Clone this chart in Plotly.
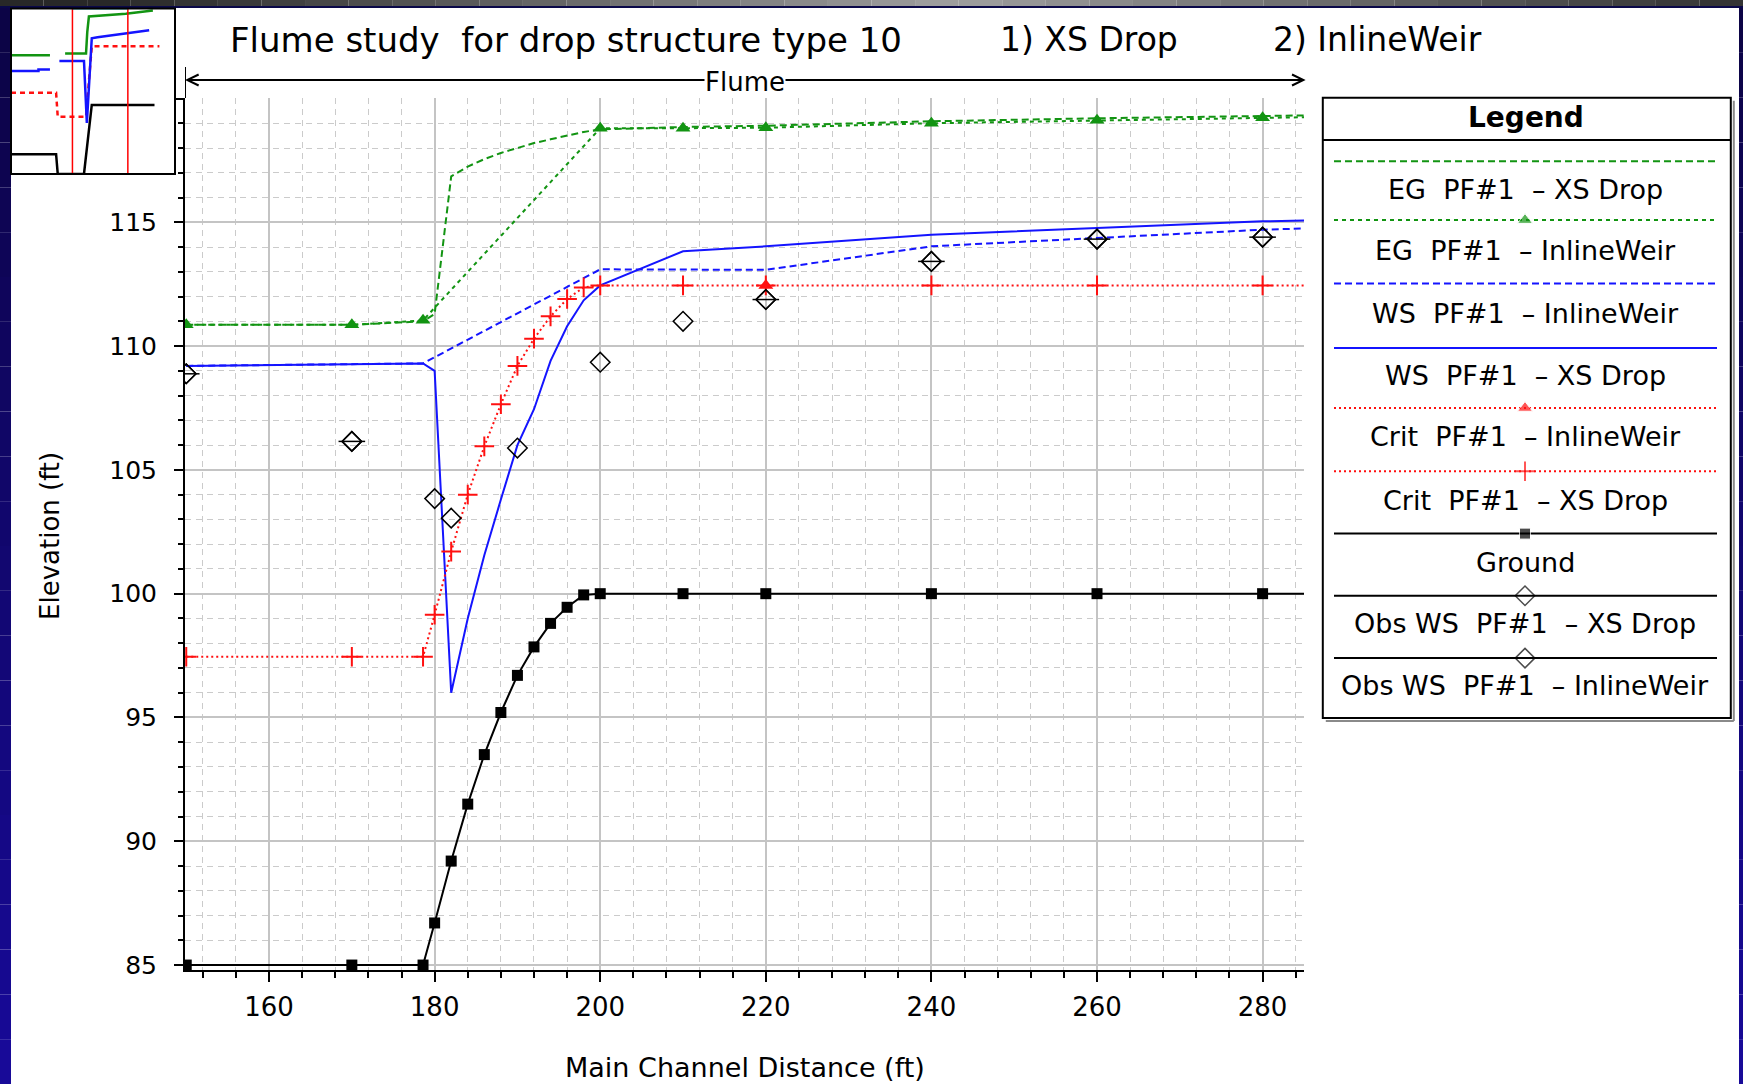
import plotly.graph_objects as go

W, H = 1743, 1084

# ---------------- profile data (ft) ----------------
# river stations of the XS Drop plan and of the InlineWeir plan
sta_xs = [150, 170, 178.6, 180, 182, 184, 186, 188, 190, 192, 194, 196, 198, 200, 210, 220, 240, 260, 280, 290]
sta_iw = [150, 170, 178.6, 200, 210, 220, 240, 260, 280, 290]

ground = [85, 85, 85, 86.7, 89.2, 91.5, 93.5, 95.2, 96.7, 97.85, 98.8, 99.45, 99.95, 100, 100, 100, 100, 100, 100, 100]
ws_xs = [109.2, 109.27, 109.3, 109.0, 96.0, 99.0, 101.55, 103.8, 106.0, 107.45, 109.4, 110.8, 111.85, 112.45,
         113.83, 114.03, 114.5, 114.77, 115.04, 115.1]
eg_xs = [110.86, 110.86, 111.0, 111.3, 116.85, 117.25, 117.55, 117.8, 118.0, 118.2, 118.35, 118.5, 118.65, 118.75,
         118.85, 118.9, 119.08, 119.2, 119.3, 119.34]
crit_xs = [97.45, 97.45, 97.45, 99.15, 101.7, 104.0, 105.95, 107.65, 109.2, 110.3, 111.2, 111.9, 112.37, 112.45,
           112.45, 112.45, 112.45, 112.45, 112.45, 112.45]

ws_iw = [109.2, 109.27, 109.3, 113.1, 113.08, 113.08, 114.03, 114.37, 114.7, 114.8]
eg_iw = [110.86, 110.86, 111.04, 118.8, 118.8, 118.82, 119.0, 119.12, 119.22, 119.27]

sta_crit_iw = [220]
crit_iw = [112.45]

sta_obs_xs = [150, 170, 180, 182, 190, 200, 210, 220, 240, 260, 280]
obs_xs = [108.88, 106.15, 103.84, 103.05, 105.88, 109.35, 111.0, 111.88, 113.42, 114.32, 114.4]
sta_obs_iw = [150, 170, 220, 240, 260, 280]
obs_iw = [108.88, 106.15, 111.88, 113.42, 114.32, 114.4]

# whole-reach overview (small profile window, top left)
ov_eg_sta = [0, 95, None, 132, 183, 186, 190, 280, 346]
ov_eg = [110.1, 110.1, None, 110.5, 110.5, 115.0, 118.3, 118.9, 119.6]
ov_ws_sta = [0, 67, 67, 95, None, 118, 178, 185, 197, 211, 337]
ov_ws = [106.8, 106.8, 107.1, 107.1, None, 108.9, 108.9, 95.8, 113.7, 113.9, 115.4]
ov_crit_sta = [0, 110, 114, 174, 183, 197, 362]
ov_crit = [102.2, 102.2, 97.1, 97.1, 97.1, 112.0, 112.0]
ov_gr_sta = [0, 110, 114, 178, 197, 350]
ov_gr = [89.2, 89.2, 85, 85, 99.6, 99.6]

view_x = [149.85, 285.0]
view_y = [84.8, 120.02]
flume_reach = [149.85, 285.2]

title_parts = ["Flume study\u00a0 for drop structure type 10", "1) XS Drop", "2) InlineWeir"]
legend_labels = [
    "EG\u00a0 PF#1\u00a0 \u2013 XS Drop",
    "EG\u00a0 PF#1\u00a0 \u2013 InlineWeir",
    "WS\u00a0 PF#1\u00a0 \u2013 InlineWeir",
    "WS\u00a0 PF#1\u00a0 \u2013 XS Drop",
    "Crit\u00a0 PF#1\u00a0 \u2013 InlineWeir",
    "Crit\u00a0 PF#1\u00a0 \u2013 XS Drop",
    "Ground",
    "Obs WS\u00a0 PF#1\u00a0 \u2013 XS Drop",
    "Obs WS\u00a0 PF#1\u00a0 \u2013 InlineWeir",
]

# ---------------- styles ----------------
GREEN, BLUE, RED, BLACK = "#129412", "#1414ff", "#ff1010", "#000000"
FONT = "DejaVu Sans"

styles = [
    dict(line=dict(color=GREEN, width=2, dash="7px,4px"), mode="lines"),
    dict(line=dict(color=GREEN, width=2, dash="4px,4px"), mode="lines+markers",
         marker=dict(symbol="triangle-up", size=13, color=GREEN)),
    dict(line=dict(color=BLUE, width=2, dash="7px,4px"), mode="lines"),
    dict(line=dict(color=BLUE, width=2), mode="lines"),
    dict(line=dict(color=RED, width=2, dash="2px,3px"), mode="lines+markers",
         marker=dict(symbol="triangle-up", size=13, color=RED)),
    dict(line=dict(color=RED, width=2, dash="2px,3px"), mode="lines+markers",
         marker=dict(symbol="cross-thin", size=14, line=dict(color=RED, width=2))),
    dict(line=dict(color=BLACK, width=2), mode="lines+markers",
         marker=dict(symbol="square", size=11, color=BLACK)),
    dict(line=dict(color=BLACK, width=2), mode="markers",
         marker=dict(symbol="diamond-open", size=15, line=dict(color=BLACK, width=1.5))),
    dict(line=dict(color=BLACK, width=2), mode="markers",
         marker=dict(symbol="diamond-open", size=15, line=dict(color=BLACK, width=1.5))),
]

series = [
    (sta_xs, eg_xs), (sta_iw, eg_iw), (sta_iw, ws_iw), (sta_xs, ws_xs),
    (sta_crit_iw, crit_iw), (sta_xs, crit_xs), (sta_xs, ground),
    (sta_obs_xs, obs_xs), (sta_obs_iw, obs_iw),
]


def px(x):
    return x / W


def py(y):
    return 1 - y / H


fig = go.Figure()

# main profile plot
for (sx, sy), st, name in zip(series, styles, legend_labels):
    fig.add_trace(go.Scatter(x=sx, y=sy, name=name, showlegend=False, xaxis="x", yaxis="y", **st))
# InlineWeir observed points carry a bar across the diamond
fig.add_trace(go.Scatter(x=sta_obs_iw, y=obs_iw, mode="markers", showlegend=False, xaxis="x", yaxis="y",
                         marker=dict(symbol="line-ew", size=19, line=dict(color=BLACK, width=1.5))))

# overview window
for sx, sy, col, dash in [(ov_gr_sta, ov_gr, BLACK, "solid"), (ov_crit_sta, ov_crit, RED, "5px,4px"),
                          (ov_ws_sta, ov_ws, BLUE, "solid"), (ov_eg_sta, ov_eg, GREEN, "solid")]:
    fig.add_trace(go.Scatter(x=sx, y=sy, mode="lines", line=dict(color=col, width=2.5, dash=dash),
                             showlegend=False, xaxis="x2", yaxis="y2", connectgaps=False))
for vx in view_x:
    fig.add_trace(go.Scatter(x=[vx, vx], y=[85, 120], mode="lines", line=dict(color="#ff0000", width=1.5),
                             showlegend=False, xaxis="x2", yaxis="y2"))
for vy in [85, 120]:
    fig.add_trace(go.Scatter(x=view_x, y=[vy, vy], mode="lines", line=dict(color="#20a0a8", width=2),
                             showlegend=False, xaxis="x2", yaxis="y2"))

# legend key samples
LX0, LX1 = 1322.8, 1730.8
LY0, LY1 = 97.8, 718.0
key_y = [161.2, 220.1, 283.5, 347.9, 408.0, 471.3, 533.6, 595.8, 658.1]
text_y = [189.0, 250.1, 313.5, 375.7, 436.9, 500.2, 562.5, 623.6, 685.9]
for ky, st in zip(key_y, styles):
    s = dict(st)
    s["mode"] = "lines+markers"
    if "marker" in st:
        m = dict(st["marker"])
        m["size"] = [0, m["size"], 0]
        s["marker"] = m
    else:
        s["marker"] = dict(size=[0, 0, 0], color=st["line"]["color"])
    fig.add_trace(go.Scatter(x=[1334, 1525, 1717], y=[ky, ky, ky], showlegend=False,
                             xaxis="x3", yaxis="y3", **s))

shapes = []
# slide frame: navy side strips and a grey bar along the top
n = 24
for i in range(n):
    t = i / (n - 1)
    col = "rgb(%d,%d,%d)" % (int(12 + 12 * t), int(4 + 6 * t), int(70 + 82 * t))
    for xa, xb in [(0, 11), (1739, 1743)]:
        shapes.append(dict(type="rect", xref="paper", yref="paper", x0=px(xa), x1=px(xb),
                           y0=py(8 + (1084 - 8) * (i + 1) / n), y1=py(8 + (1084 - 8) * i / n),
                           fillcolor=col, line_width=0, layer="below"))
m = 40
for i in range(m):
    t = i / (m - 1)
    k = abs(2 * t - 1.1)
    g = int(40 + 120 * (1 - k)) if k < 1 else 40
    col = "rgb(%d,%d,%d)" % (g, g, g)
    shapes.append(dict(type="rect", xref="paper", yref="paper", x0=px(W * i / m), x1=px(W * (i + 1) / m),
                       y0=py(6), y1=py(0), fillcolor=col, line_width=0, layer="below"))
shapes.append(dict(type="rect", xref="paper", yref="paper", x0=0, x1=1, y0=py(8), y1=py(6),
                   fillcolor="#0a0848", line_width=0, layer="below"))

# overview frame
shapes.append(dict(type="rect", xref="paper", yref="paper", x0=px(11), x1=px(175), y0=py(174), y1=py(8.5),
                   line=dict(color="black", width=2), fillcolor="rgba(0,0,0,0)"))

# legend frame with a grey drop shadow on the right and bottom
shapes.append(dict(type="line", xref="paper", yref="paper", x0=px(LX1 + 3), x1=px(LX1 + 3), y0=py(LY1 + 3),
                   y1=py(LY0 + 3), line=dict(color="#8a8a8a", width=2)))
shapes.append(dict(type="line", xref="paper", yref="paper", x0=px(LX0 + 3), x1=px(LX1 + 3), y0=py(LY1 + 3),
                   y1=py(LY1 + 3), line=dict(color="#8a8a8a", width=2)))
shapes.append(dict(type="rect", xref="paper", yref="paper", x0=px(LX0), x1=px(LX1), y0=py(LY1), y1=py(LY0),
                   line=dict(color="black", width=2), fillcolor="rgba(0,0,0,0)"))
shapes.append(dict(type="line", xref="paper", yref="paper", x0=px(LX0), x1=px(LX1), y0=py(140), y1=py(140),
                   line=dict(color="black", width=2)))

# flume reach marker above the plot
shapes.append(dict(type="line", xref="x", yref="paper", x0=flume_reach[0], x1=flume_reach[0],
                   y0=py(98), y1=py(67), line=dict(color="black", width=2)))
shapes.append(dict(type="line", xref="x", yref="paper", x0=flume_reach[1], x1=flume_reach[1],
                   y0=py(88), y1=py(67), line=dict(color="black", width=2)))

annotations = []
flume_mid = (flume_reach[0] + flume_reach[1]) / 2
for end in flume_reach:
    annotations.append(dict(xref="x", yref="paper", x=end, y=py(80), axref="x", ayref="pixel",
                            ax=flume_mid, ay=0, text="", showarrow=True, arrowhead=5,
                            arrowsize=1.1, arrowwidth=2, arrowcolor="black"))
annotations.append(dict(xref="x", yref="paper", x=flume_mid, y=py(82), text="Flume", showarrow=False,
                        font=dict(family=FONT, size=26, color="black"), bgcolor="white",
                        borderpad=0, xanchor="center", yanchor="middle"))

for txt, x0, fs in zip(title_parts, [228, 998, 1270.6], [34, 33, 33]):
    annotations.append(dict(xref="paper", yref="paper", x=px(x0), y=py(40), xanchor="left", yanchor="middle",
                            text=txt, showarrow=False, font=dict(family=FONT, size=fs, color="black")))

annotations.append(dict(xref="paper", yref="paper", x=px(1526), y=py(117), text="<b>Legend</b>",
                        xanchor="center", yanchor="middle",
                        showarrow=False, font=dict(family=FONT, size=28, color="black")))
for txt, ty in zip(legend_labels, text_y):
    annotations.append(dict(xref="paper", yref="paper", x=px(1525), y=py(ty), text=txt, showarrow=False,
                            xanchor="center", yanchor="middle",
                            font=dict(family=FONT, size=27, color="black")))

annotations.append(dict(xref="paper", yref="paper", x=px(50), y=py(536), text="Elevation (ft)", textangle=-90,
                        xanchor="center", yanchor="middle",
                        showarrow=False, font=dict(family=FONT, size=26, color="black")))
annotations.append(dict(xref="paper", yref="paper", x=px(745), y=0, text="Main Channel Distance (ft)",
                        xanchor="center", yanchor="bottom", borderpad=0,
                        showarrow=False, font=dict(family=FONT, size=27, color="black")))

grid_major = "#c4c4c4"
grid_minor = "#cbcbcb"
y_ticks = [85, 90, 95, 100, 105, 110, 115, 120]

fig.update_layout(
    width=W, height=H, margin=dict(l=0, r=0, t=0, b=0, pad=0, autoexpand=False),
    paper_bgcolor="white", plot_bgcolor="white",
    showlegend=False,
    xaxis=dict(domain=[px(185), px(1304)], range=view_x, anchor="y",
               tickmode="linear", tick0=0, dtick=20, ticks="outside", ticklen=10, tickwidth=2,
               tickcolor="black", showline=True, linecolor="black", linewidth=2, zeroline=False,
               showgrid=True, gridcolor=grid_major, gridwidth=2, ticklabelstandoff=3,
               tickfont=dict(family=FONT, size=26, color="black"),
               minor=dict(tick0=0, dtick=4, ticks="outside", ticklen=6, tickwidth=1.5, tickcolor="black",
                          showgrid=True, gridcolor=grid_minor, griddash="6px,5px", gridwidth=1)),
    yaxis=dict(domain=[py(970), py(98)], range=view_y, anchor="x",
               tickmode="array", tickvals=y_ticks, ticktext=[str(v) if v < 120 else "" for v in y_ticks],
               ticks="outside", ticklen=9, tickwidth=2, tickcolor="black",
               showline=True, linecolor="black", linewidth=2, zeroline=False,
               showgrid=True, gridcolor=grid_major, gridwidth=2, ticklabelstandoff=12,
               tickfont=dict(family=FONT, size=25, color="black"),
               minor=dict(tickmode="linear", tick0=0, dtick=1, ticks="outside", ticklen=5, tickwidth=1.5,
                          tickcolor="black", showgrid=True, gridcolor=grid_minor, griddash="6px,5px",
                          gridwidth=1)),
    xaxis2=dict(domain=[px(11), px(175)], range=[0, 400], anchor="y2", visible=False, fixedrange=True),
    yaxis2=dict(domain=[py(174), py(8.5)], range=[85, 120], anchor="x2", visible=False, fixedrange=True),
    xaxis3=dict(domain=[px(LX0), px(LX1)], range=[LX0, LX1], anchor="y3", visible=False),
    yaxis3=dict(domain=[py(LY1), py(LY0)], range=[LY1, LY0], anchor="x3", visible=False),
    shapes=shapes,
    annotations=annotations,
)

fig.write_html("out.html")
